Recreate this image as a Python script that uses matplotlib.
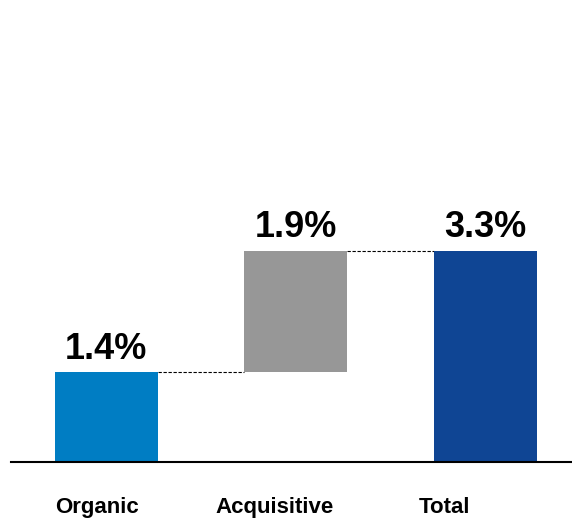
import matplotlib
matplotlib.use('Agg')
import matplotlib.pyplot as plt

plt.rcParams['font.family'] = ['Liberation Sans', 'DejaVu Sans']

categorias = ['Organic', 'Acquisitive', 'Total']
valores = [1.4, 1.9, 3.3]
bases = [0.0, 1.4, 0.0]
etiquetas = ['1.4%', '1.9%', '3.3%']
colores = ['#007DC3', '#979797', '#0F4594']
# las etiquetas de categoria no quedan centradas bajo las barras
desplazamiento = [-0.048, -0.112, -0.217]

fig = plt.figure(figsize=(5.72, 5.20), dpi=100)
ax = fig.add_axes([11 / 572, 58 / 520, 561 / 572, 462 / 520])

x = list(range(len(categorias)))
ancho = 0.544
ax.bar(x, valores, bottom=bases, width=ancho, color=colores, zorder=2)

# lineas punteadas entre barras
for i in range(len(x) - 1):
    nivel = bases[i] + valores[i]
    ax.plot([x[i] + ancho / 2, x[i + 1] - ancho / 2], [nivel, nivel],
            color='black', linestyle=(0, (3, 1.5)), linewidth=0.8, zorder=1)

for i, txt in enumerate(etiquetas):
    ax.annotate(txt, (x[i], bases[i] + valores[i]), xytext=(0, 10),
                textcoords='offset points', ha='center', va='baseline',
                fontsize=26, fontweight='bold')

for i, cat in enumerate(categorias):
    ax.annotate(cat, (x[i] + desplazamiento[i], 0), xycoords=('data', 'axes fraction'),
                xytext=(0, -36.7), textcoords='offset points', ha='center',
                va='baseline', fontsize=16, fontweight='bold')

ax.set_xlim(-0.504, 2.459)
ax.set_ylim(0, 7.22)
ax.set_xticks([])
ax.set_yticks([])
for lado in ['top', 'right', 'left']:
    ax.spines[lado].set_visible(False)
ax.spines['bottom'].set_linewidth(1.5)

fig.savefig('out.png', dpi=100)
